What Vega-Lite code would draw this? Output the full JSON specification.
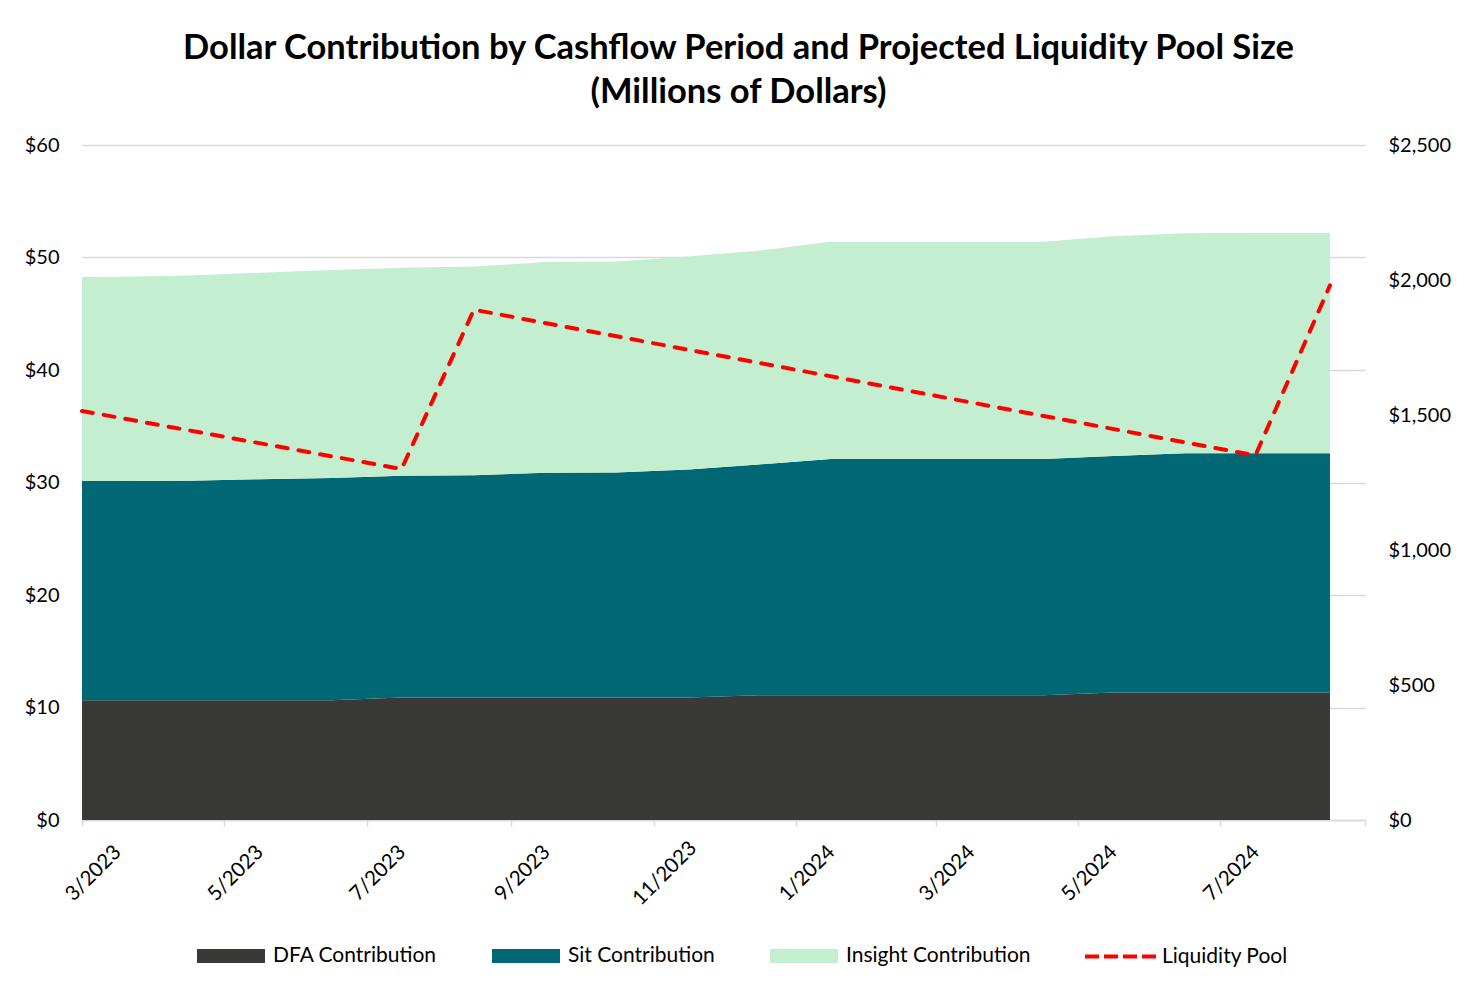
{
  "$schema": "https://vega.github.io/schema/vega-lite/v6.json",
  "width": 1283,
  "height": 675,
  "autosize": {"type": "none"},
  "padding": {"left": 82, "top": 145, "right": 114, "bottom": 171},
  "background": "white",
  "title": {
    "text": ["Dollar Contribution by Cashflow Period and Projected Liquidity Pool Size", "(Millions of Dollars)"],
    "font": "Lato",
    "fontSize": 34.5,
    "fontWeight": "bold",
    "color": "#000000",
    "anchor": "middle",
    "dx": 15,
    "offset": 25,
    "lineHeight": 44
  },
  "config": {
    "view": {"stroke": null},
    "font": "Lato",
    "axis": {"labelFont": "Lato", "labelFontSize": 20, "labelColor": "#000000"},
    "legend": {"labelFont": "Lato", "labelFontSize": 21, "labelColor": "#000000"}
  },
  "layer": [
    {
      "data": {
        "values": [
          {"date": "2023-03-01", "DFA Contribution": 10.64, "Sit Contribution": 19.49, "Insight Contribution": 18.14},
          {"date": "2023-03-16", "DFA Contribution": 10.64, "Sit Contribution": 19.49, "Insight Contribution": 18.17},
          {"date": "2023-04-16", "DFA Contribution": 10.64, "Sit Contribution": 19.51, "Insight Contribution": 18.25},
          {"date": "2023-05-16", "DFA Contribution": 10.64, "Sit Contribution": 19.66, "Insight Contribution": 18.35},
          {"date": "2023-06-16", "DFA Contribution": 10.64, "Sit Contribution": 19.76, "Insight Contribution": 18.5},
          {"date": "2023-07-16", "DFA Contribution": 10.9, "Sit Contribution": 19.7, "Insight Contribution": 18.5},
          {"date": "2023-08-16", "DFA Contribution": 10.9, "Sit Contribution": 19.75, "Insight Contribution": 18.55},
          {"date": "2023-09-16", "DFA Contribution": 10.9, "Sit Contribution": 19.97, "Insight Contribution": 18.73},
          {"date": "2023-10-16", "DFA Contribution": 10.9, "Sit Contribution": 20.0, "Insight Contribution": 18.75},
          {"date": "2023-11-16", "DFA Contribution": 10.9, "Sit Contribution": 20.25, "Insight Contribution": 18.95},
          {"date": "2023-12-16", "DFA Contribution": 11.1, "Sit Contribution": 20.5, "Insight Contribution": 19.0},
          {"date": "2024-01-16", "DFA Contribution": 11.1, "Sit Contribution": 21.0, "Insight Contribution": 19.3},
          {"date": "2024-02-16", "DFA Contribution": 11.1, "Sit Contribution": 21.0, "Insight Contribution": 19.3},
          {"date": "2024-03-16", "DFA Contribution": 11.1, "Sit Contribution": 21.0, "Insight Contribution": 19.3},
          {"date": "2024-04-16", "DFA Contribution": 11.1, "Sit Contribution": 21.0, "Insight Contribution": 19.3},
          {"date": "2024-05-16", "DFA Contribution": 11.33, "Sit Contribution": 21.02, "Insight Contribution": 19.55},
          {"date": "2024-06-16", "DFA Contribution": 11.33, "Sit Contribution": 21.27, "Insight Contribution": 19.55},
          {"date": "2024-07-16", "DFA Contribution": 11.33, "Sit Contribution": 21.27, "Insight Contribution": 19.6},
          {"date": "2024-08-17", "DFA Contribution": 11.33, "Sit Contribution": 21.27, "Insight Contribution": 19.6}
        ]
      },
      "transform": [
        {"fold": ["DFA Contribution", "Sit Contribution", "Insight Contribution"], "as": ["series", "value"]},
        {"calculate": "indexof(['DFA Contribution', 'Sit Contribution', 'Insight Contribution'], datum.series)", "as": "ord"}
      ],
      "mark": {"type": "area", "interpolate": "linear"},
      "encoding": {
        "x": {
          "field": "date",
          "type": "temporal",
          "scale": {
            "type": "utc",
            "domain": [
              {"year": 2023, "month": 3, "date": 1, "utc": true},
              {"year": 2024, "month": 9, "date": 1, "utc": true}
            ]
          },
          "axis": {
            "title": null,
            "grid": false,
            "values": [
              {"year": 2023, "month": 3, "date": 1, "utc": true},
              {"year": 2023, "month": 5, "date": 1, "utc": true},
              {"year": 2023, "month": 7, "date": 1, "utc": true},
              {"year": 2023, "month": 9, "date": 1, "utc": true},
              {"year": 2023, "month": 11, "date": 1, "utc": true},
              {"year": 2024, "month": 1, "date": 1, "utc": true},
              {"year": 2024, "month": 3, "date": 1, "utc": true},
              {"year": 2024, "month": 5, "date": 1, "utc": true},
              {"year": 2024, "month": 7, "date": 1, "utc": true},
              {"year": 2024, "month": 9, "date": 1, "utc": true}
            ],
            "labelExpr": "utcFormat(datum.value, '%Y-%m') == '2024-09' ? '' : utcFormat(datum.value, '%-m/%Y')",
            "labelAngle": -45,
            "labelAlign": "center",
            "labelBaseline": "middle",
            "labelPadding": 47,
            "labelOffset": 11,
            "labelFontSize": 20.5,
            "labelFlush": false,
            "labelOverlap": false,
            "tickColor": "#D9D9D9",
            "tickSize": 6,
            "tickWidth": 1.5,
            "domainColor": "#D9D9D9",
            "domainWidth": 1.5
          }
        },
        "y": {
          "field": "value",
          "type": "quantitative",
          "stack": "zero",
          "scale": {"domain": [0, 60]},
          "axis": {
            "title": null,
            "values": [0, 10, 20, 30, 40, 50, 60],
            "format": "$,.0f",
            "grid": true,
            "gridColor": "#D9D9D9",
            "gridWidth": 1.5,
            "domain": false,
            "ticks": false,
            "labelPadding": 23
          }
        },
        "fill": {
          "field": "series",
          "type": "nominal",
          "scale": {
            "domain": ["DFA Contribution", "Sit Contribution", "Insight Contribution"],
            "range": ["#393A37", "#006774", "#C3EFD0"]
          },
          "legend": {
            "orient": "none",
            "legendX": 115,
            "legendY": 777,
            "direction": "horizontal",
            "columns": 3,
            "title": null,
            "symbolType": "M-1,-0.206H1V0.206H-1Z",
            "symbolSize": 4624,
            "symbolStrokeWidth": 0,
            "labelOffset": 8,
            "columnPadding": 55,
            "labelLimit": 400
          }
        },
        "order": {"field": "ord", "type": "quantitative"}
      }
    },
    {
      "data": {
        "values": [
          {"date": "2023-03-01", "series": "Liquidity Pool", "pool": 1515},
          {"date": "2023-07-16", "series": "Liquidity Pool", "pool": 1300},
          {"date": "2023-08-16", "series": "Liquidity Pool", "pool": 1890},
          {"date": "2024-07-16", "series": "Liquidity Pool", "pool": 1350},
          {"date": "2024-08-17", "series": "Liquidity Pool", "pool": 1980}
        ]
      },
      "mark": {"type": "line", "strokeWidth": 4, "strokeDash": [11, 11], "strokeCap": "round"},
      "encoding": {
        "x": {"field": "date", "type": "temporal"},
        "y": {
          "field": "pool",
          "type": "quantitative",
          "scale": {"domain": [0, 2500]},
          "axis": {
            "orient": "right",
            "title": null,
            "values": [0, 500, 1000, 1500, 2000, 2500],
            "format": "$,.0f",
            "grid": false,
            "domain": false,
            "ticks": false,
            "labelPadding": 23
          }
        },
        "stroke": {
          "field": "series",
          "type": "nominal",
          "scale": {"domain": ["Liquidity Pool"], "range": ["#FF0000"]},
          "legend": {
            "orient": "none",
            "legendX": 1001,
            "legendY": 774,
            "title": null,
            "symbolType": "stroke",
            "symbolSize": 5041,
            "symbolStrokeWidth": 4,
            "symbolDash": [14, 5],
            "labelOffset": 4,
            "labelLimit": 300
          }
        }
      }
    }
  ],
  "resolve": {"scale": {"y": "independent"}}
}
